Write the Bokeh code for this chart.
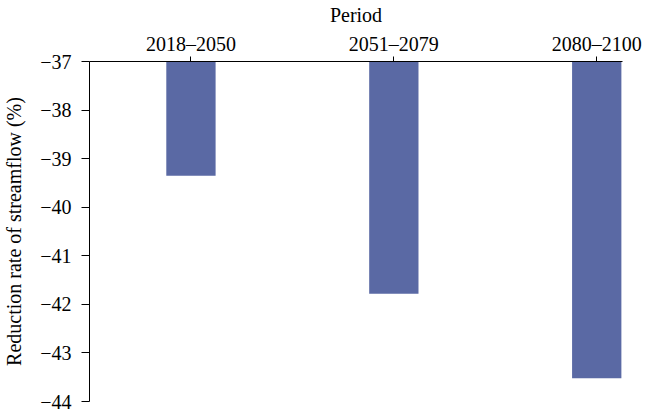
from bokeh.plotting import figure
from bokeh.models import Range1d, FixedTicker
from bokeh.embed import file_html
from bokeh.resources import INLINE

periods = ["2018–2050", "2051–2079", "2080–2100"]
reduction = [-39.35, -41.78, -43.52]
y_ticks = [-44, -43, -42, -41, -40, -39, -38, -37]
baseline = -37

xs = list(range(len(periods)))
FONT = "Liberation Serif"

p = figure(width=642, height=411, output_backend="svg", toolbar_location=None,
           x_range=Range1d(-0.5, 2.127), y_range=Range1d(-44, -37),
           x_axis_location="above", min_border_left=10, min_border_right=20,
           min_border_top=0, min_border_bottom=10)
p.outline_line_color = None
p.xgrid.visible = False
p.ygrid.visible = False

p.vbar(x=xs, top=baseline, bottom=reduction, width=0.243,
       fill_color="#5a69a4", line_color=None)

xa = p.xaxis[0]
xa.ticker = FixedTicker(ticks=xs)
xa.major_label_overrides = {i: s for i, s in enumerate(periods)}
xa.axis_label = "Period"
xa.minor_tick_line_color = None
xa.major_tick_out = 5
xa.major_tick_in = 0
xa.major_label_standoff = 2
xa.axis_label_standoff = 4

ya = p.yaxis[0]
ya.ticker = FixedTicker(ticks=y_ticks)
ya.major_label_overrides = {t: str(t).replace("-", "−") for t in y_ticks}
ya.axis_label = "Reduction rate of streamflow (%)"
ya.minor_tick_line_color = None
ya.major_tick_out = 8
ya.major_tick_in = 0
ya.major_label_standoff = 10
ya.axis_label_standoff = 12

for ax in (xa, ya):
    ax.major_label_text_font = FONT
    ax.axis_label_text_font = FONT
    ax.major_label_text_font_size = "20px"
    ax.axis_label_text_font_size = "20px"
    ax.axis_label_text_font_style = "normal"
    ax.major_label_text_color = "black"
    ax.axis_label_text_color = "black"
    ax.axis_line_color = "black"
    ax.major_tick_line_color = "black"

open("out.html", "w").write(file_html(p, INLINE))
